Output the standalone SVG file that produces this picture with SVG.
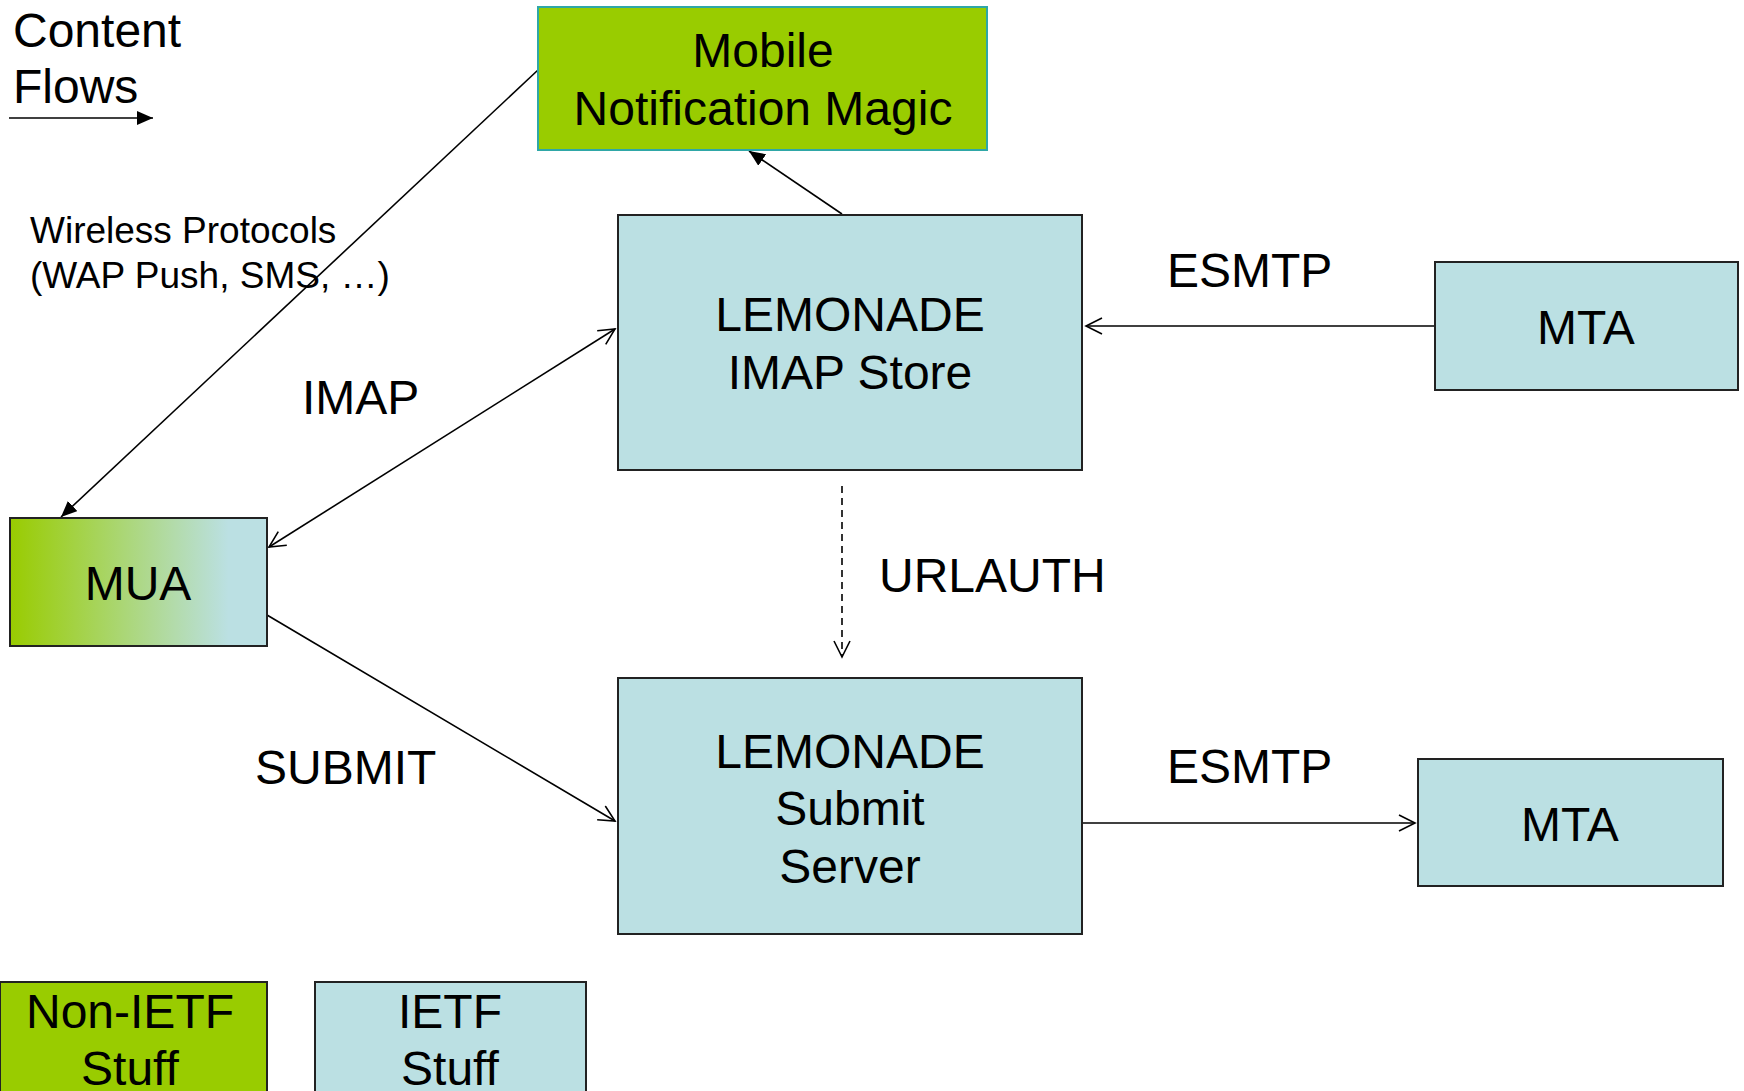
<svg xmlns="http://www.w3.org/2000/svg" width="1744" height="1091" viewBox="0 0 1744 1091">
<style>
text{font-family:"Liberation Sans",Arial,sans-serif;fill:#000}
.big{font-size:48px}
.mid{font-size:37px}
.c{text-anchor:middle}
.ietf{fill:#BBE0E3;stroke:#222;stroke-width:2}
.non{fill:#99CC00;stroke:#222;stroke-width:2}
.ln{stroke:#000;stroke-width:1.6;fill:none}
</style>
<defs>
<linearGradient id="g" x1="0" y1="0" x2="1" y2="0">
<stop offset="0" stop-color="#99CC00"/>
<stop offset="0.85" stop-color="#BBE0E3"/>
<stop offset="1" stop-color="#BBE0E3"/>
</linearGradient>
<marker id="fa" markerUnits="userSpaceOnUse" markerWidth="20" markerHeight="16" refX="16" refY="7" orient="auto">
<path d="M0,0 L16,7 L0,14 Z" fill="#000"/>
</marker>
<marker id="oa" markerUnits="userSpaceOnUse" markerWidth="20" markerHeight="20" refX="17" refY="9" orient="auto-start-reverse">
<path d="M1,1 L17,9 L1,17" fill="none" stroke="#000" stroke-width="1.6"/>
</marker>
</defs>
<rect width="1744" height="1091" fill="#fff"/>

<g id="legend-flows">
<text class="big" x="13" y="47">Content</text>
<text class="big" x="13" y="103">Flows</text>
<line class="ln" x1="9" y1="118" x2="153" y2="118" marker-end="url(#fa)"/>
</g>

<g id="connectors">
<line class="ln" x1="538" y1="70" x2="61" y2="517" marker-end="url(#fa)"/>
<line class="ln" x1="842" y1="214" x2="749" y2="151" marker-end="url(#fa)"/>
<line class="ln" x1="269" y1="547" x2="615" y2="329" marker-start="url(#oa)" marker-end="url(#oa)"/>
<line class="ln" x1="1435" y1="326" x2="1086" y2="326" marker-end="url(#oa)"/>
<line class="ln" x1="842" y1="486" x2="842" y2="657" stroke-dasharray="7,5" marker-end="url(#oa)"/>
<line class="ln" x1="267" y1="615" x2="615" y2="821" marker-end="url(#oa)"/>
<line class="ln" x1="1082" y1="823" x2="1415" y2="823" marker-end="url(#oa)"/>
<text class="mid" x="30" y="243">Wireless Protocols</text>
<text class="mid" x="30" y="288">(WAP Push, SMS, …)</text>
<text class="big" x="302" y="414">IMAP</text>
<text class="big" x="1167" y="287">ESMTP</text>
<text class="big" x="879" y="592">URLAUTH</text>
<text class="big" x="255" y="784">SUBMIT</text>
<text class="big" x="1167" y="783">ESMTP</text>
</g>

<g id="mobile">
<rect x="538" y="7" width="449" height="143" fill="#99CC00" stroke="#2FA7A7" stroke-width="2"/>
<text class="big c" x="763" y="67">Mobile</text>
<text class="big c" x="763" y="125">Notification Magic</text>
</g>

<g id="imap-store">
<rect class="ietf" x="618" y="215" width="464" height="255"/>
<text class="big c" x="850" y="331">LEMONADE</text>
<text class="big c" x="850" y="389">IMAP Store</text>
</g>

<g id="mta-top">
<rect class="ietf" x="1435" y="262" width="303" height="128"/>
<text class="big c" x="1586" y="344">MTA</text>
</g>

<g id="mua">
<rect x="10" y="518" width="257" height="128" fill="url(#g)" stroke="#222" stroke-width="2"/>
<text class="big c" x="138" y="600">MUA</text>
</g>

<g id="submit-server">
<rect class="ietf" x="618" y="678" width="464" height="256"/>
<text class="big c" x="850" y="768">LEMONADE</text>
<text class="big c" x="850" y="825">Submit</text>
<text class="big c" x="850" y="883">Server</text>
</g>

<g id="mta-bottom">
<rect class="ietf" x="1418" y="759" width="305" height="127"/>
<text class="big c" x="1570" y="841">MTA</text>
</g>

<g id="legend-non-ietf">
<rect class="non" x="0" y="982" width="267" height="120"/>
<text class="big c" x="130" y="1028">Non-IETF</text>
<text class="big c" x="130" y="1085">Stuff</text>
</g>

<g id="legend-ietf">
<rect class="ietf" x="315" y="982" width="271" height="120"/>
<text class="big c" x="450" y="1028">IETF</text>
<text class="big c" x="450" y="1085">Stuff</text>
</g>
</svg>
